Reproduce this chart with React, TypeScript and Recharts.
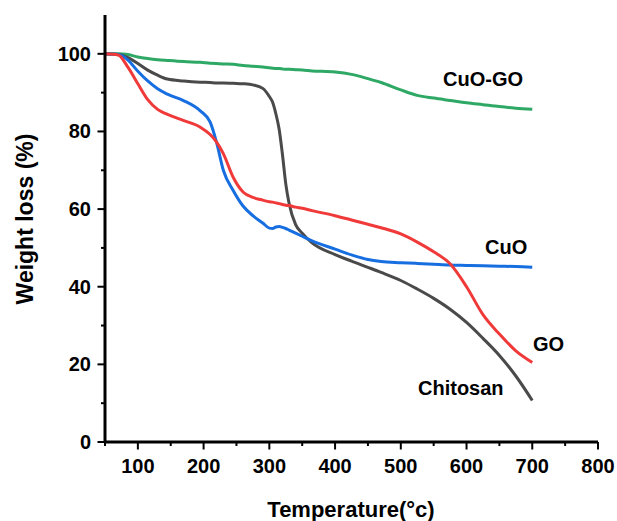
import { LineChart, Line, XAxis, YAxis } from 'recharts';

// TGA curves
const temps = [50, 70, 85, 100, 115, 130, 145, 170, 195, 210, 220, 230, 245, 260, 275, 290, 300, 305, 310, 315, 320, 325, 330, 340, 350, 365, 400, 425, 450, 470, 500, 525, 550, 575, 600, 625, 650, 675, 700];
const chitosan = [100, 99.8, 99.0, 97.5, 95.8, 94.5, 93.5, 93.0, 92.7, 92.6, 92.5, 92.5, 92.4, 92.3, 92.0, 91.1, 89.0, 87.5, 84.5, 80.5, 74.0, 66.5, 61.5, 56.0, 53.8, 51.3, 48.3, 46.6, 45.0, 43.7, 41.6, 39.4, 37.0, 34.2, 30.8, 26.7, 22.3, 17.0, 10.7];
const go = [100, 99.7, 96.5, 92.3, 88.2, 85.7, 84.4, 82.8, 81.1, 79.2, 77.2, 74.3, 68.2, 64.4, 63.0, 62.3, 61.9, 61.8, 61.6, 61.4, 61.2, 61.0, 60.9, 60.5, 60.2, 59.6, 58.3, 57.2, 56.1, 55.2, 53.6, 51.5, 49.0, 45.9, 40.0, 32.8, 27.8, 23.5, 20.5];
const cuo = [100, 99.8, 98.4, 95.5, 93.0, 91.0, 89.6, 87.9, 85.3, 82.4, 77.0, 70.0, 64.8, 60.8, 58.3, 56.4, 55.1, 55.0, 55.4, 55.5, 55.3, 55.0, 54.6, 53.8, 53.0, 51.8, 49.7, 48.2, 47.0, 46.5, 46.2, 46.0, 45.8, 45.6, 45.5, 45.4, 45.3, 45.2, 45.0];
const cuoGo = [100, 100, 99.8, 99.2, 98.8, 98.5, 98.3, 98.0, 97.8, 97.6, 97.5, 97.4, 97.3, 97.0, 96.8, 96.6, 96.4, 96.3, 96.2, 96.2, 96.1, 96.0, 96.0, 95.9, 95.8, 95.6, 95.3, 94.7, 93.6, 92.6, 90.7, 89.3, 88.6, 88.0, 87.4, 86.9, 86.4, 86.0, 85.7];

const xTicks = [50, 100, 150, 200, 250, 300, 350, 400, 450, 500, 550, 600, 650, 700, 750, 800];
const yTicks = [0, 10, 20, 30, 40, 50, 60, 70, 80, 90, 100];

const data = temps.map((t, i) => ({
  t,
  chitosan: chitosan[i],
  go: go[i],
  cuo: cuo[i],
  cuoGo: cuoGo[i],
}));

const FONT = '"Liberation Sans", Arial, sans-serif';

function XTick({ x, y, payload }: any) {
  const major = payload.value % 100 === 0;
  return (
    <g>
      <line x1={x} x2={x} y1={y} y2={y + (major ? 7.5 : 4)} stroke="#000" strokeWidth={2} />
      {major && (
        <text x={x} y={y + 31} textAnchor="middle" fontFamily={FONT} fontWeight="bold" fontSize={20} fill="#000">
          {payload.value}
        </text>
      )}
    </g>
  );
}

function YTick({ x, y, payload }: any) {
  const major = payload.value % 20 === 0;
  return (
    <g>
      <line x1={x - (major ? 7.5 : 4)} x2={x} y1={y} y2={y} stroke="#000" strokeWidth={2} />
      {major && (
        <text x={x - 14} y={y + 7} textAnchor="end" fontFamily={FONT} fontWeight="bold" fontSize={20} fill="#000">
          {payload.value}
        </text>
      )}
    </g>
  );
}

const labelStyle = { fontFamily: FONT, fontWeight: 'bold' as const, fontSize: 20, fill: '#000' };

export default function App() {
  return (
    <div style={{ position: 'absolute', left: 0, top: 0, width: 617, height: 521, background: '#fff' }}>
      <LineChart width={617} height={521} data={data} margin={{ top: 15, right: 19, left: 0, bottom: 0 }}>
        <XAxis
          dataKey="t"
          type="number"
          domain={[50, 800]}
          ticks={xTicks}
          interval={0}
          height={79}
          tickSize={0}
          tickMargin={0}
          tickLine={false}
          tick={<XTick />}
          axisLine={{ stroke: '#000', strokeWidth: 3 }}
        />
        <XAxis xAxisId="top" orientation="top" type="number" domain={[50, 800]} height={0} tick={false} tickLine={false} axisLine={{ stroke: '#000', strokeWidth: 2 }} />
        <YAxis
          type="number"
          domain={[0, 110]}
          ticks={yTicks}
          interval={0}
          width={105}
          tickSize={0}
          tickMargin={0}
          tickLine={false}
          tick={<YTick />}
          axisLine={{ stroke: '#000', strokeWidth: 3 }}
        />
        <YAxis yAxisId="right" orientation="right" type="number" domain={[0, 110]} width={0} tick={false} tickLine={false} axisLine={{ stroke: '#000', strokeWidth: 2 }} />
        <Line type="monotone" dataKey="cuoGo" stroke="#2ea865" strokeWidth={3} dot={false} isAnimationActive={false} />
        <Line type="monotone" dataKey="chitosan" stroke="#4a4a4a" strokeWidth={3} dot={false} isAnimationActive={false} />
        <Line type="monotone" dataKey="cuo" stroke="#176ee0" strokeWidth={3} dot={false} isAnimationActive={false} />
        <Line type="monotone" dataKey="go" stroke="#f03a3a" strokeWidth={3} dot={false} isAnimationActive={false} />
      </LineChart>
      <svg width={617} height={521} style={{ position: 'absolute', left: 0, top: 0, pointerEvents: 'none' }}>
        <text x={443} y={86} {...labelStyle}>CuO-GO</text>
        <text x={485} y={254} {...labelStyle}>CuO</text>
        <text x={533} y={351} {...labelStyle}>GO</text>
        <text x={418} y={395} {...labelStyle}>Chitosan</text>
        <text x={351} y={517} textAnchor="middle" fontFamily={FONT} fontWeight="bold" fontSize={22} fill="#000">
          Temperature(°c)
        </text>
        <text x={33} y={219} transform="rotate(-90 33 219)" textAnchor="middle" fontFamily={FONT} fontWeight="bold" fontSize={23} fill="#000">
          Weight loss (%)
        </text>
      </svg>
    </div>
  );
}
